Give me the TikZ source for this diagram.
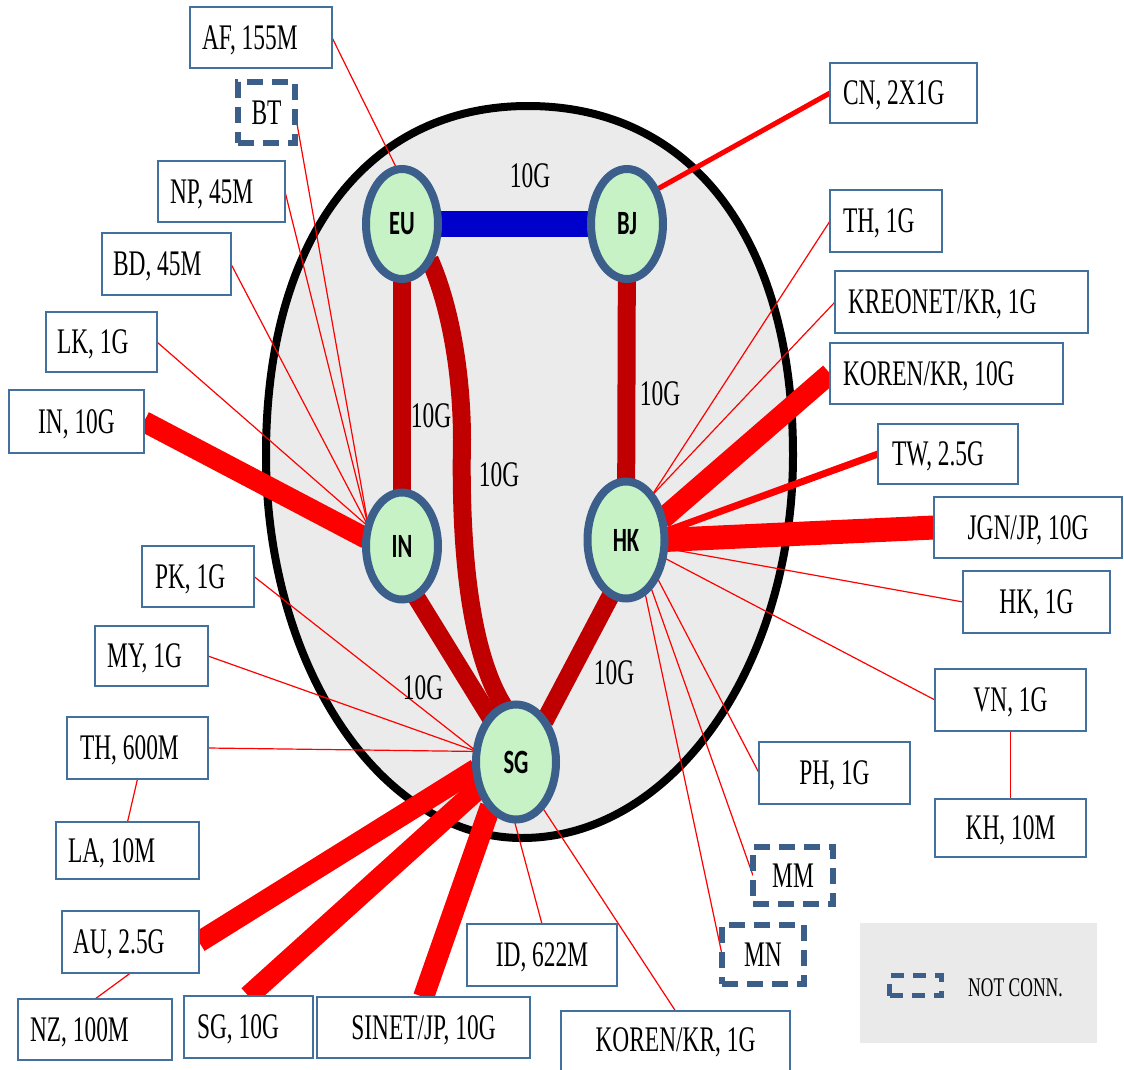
\documentclass[tikz,border=0pt]{standalone}
\usepackage{fontspec}
\setmainfont{Liberation Serif}[FakeStretch=0.65]
\newfontfamily\corefont{Carlito}[FakeStretch=0.66]
\usetikzlibrary{shapes.geometric}
\pgfdeclarelayer{egg}
\pgfdeclarelayer{wires}
\pgfsetlayers{egg,wires,main}
\definecolor{boxblue}{RGB}{65,113,156}
\definecolor{dashblue}{RGB}{60,95,138}
\definecolor{ringblue}{RGB}{59,94,139}
\definecolor{nodegreen}{RGB}{198,242,198}
\definecolor{trunkred}{RGB}{192,0,0}
\definecolor{linkred}{RGB}{255,0,0}
\definecolor{coreblue}{RGB}{0,0,204}
\definecolor{eggfill}{RGB}{235,235,235}
\definecolor{legendfill}{RGB}{234,234,234}
\frenchspacing
\tikzset{
 core/.style={ellipse, draw=ringblue, line width=8pt, fill=nodegreen, inner sep=0pt, outer sep=0pt, font=\corefont\bfseries\fontsize{34}{36}\selectfont},
 boxl/.style={draw=boxblue, line width=1.5pt, fill=white, inner ysep=0pt, text height=23.8pt, text depth=0pt, align=flush left, font=\frenchspacing\fontsize{36}{40}\selectfont, outer sep=0pt},
 boxc/.style={boxl, align=center, inner xsep=2pt},
 ncbox/.style={draw=dashblue, line width=6pt, dash pattern=on 16pt off 9pt, fill=white, inner sep=0pt, text height=23.8pt, text depth=0pt, font=\fontsize{36}{40}\selectfont, outer sep=0pt},
 link/.style={draw=linkred, line width=1.2pt},
 fat/.style={draw=linkred, line width=21pt},
 trunk/.style={draw=trunkred, line width=18pt},
 bw/.style={font=\fontsize{36}{40}\selectfont, inner sep=0pt, text height=23.8pt, text depth=0pt}
}
\begin{document}
\begin{tikzpicture}[x=1pt,y=-1pt]
\useasboundingbox (0,0) rectangle (1124,1070);

% core nodes
\node[core, minimum width=72pt, minimum height=110pt] (eu) at (402,224) {EU};
\node[core, minimum width=72pt, minimum height=110pt] (bj) at (627,224) {BJ};
\node[core, minimum width=72pt, minimum height=107pt] (in) at (402,546) {IN};
\node[core, minimum width=77pt, minimum height=117pt] (hk) at (626,540) {HK};
\node[core, minimum width=80pt, minimum height=115pt] (sg) at (516,762) {SG};

% trunk labels
\node[bw] (l1) at (530,176) {10G};
\node[bw] (l2) at (431,416) {10G};
\node[bw] (l3) at (499,475) {10G};
\node[bw] (l4) at (660,394) {10G};
\node[bw] (l5) at (423,688) {10G};
\node[bw] (l6) at (614,673) {10G};

% boxes
\node[boxl, minimum height=61pt, inner xsep=12pt, text width=118pt] (af) at (261,37.5) {AF, 155M};
\node[ncbox, minimum width=57pt, minimum height=61pt] (bt) at (266.5,112.5) {BT};
\node[boxl, minimum height=61pt, inner xsep=12pt, text width=103pt] (np) at (221.5,191.5) {NP, 45M};
\node[boxl, minimum height=62pt, inner xsep=11pt, text width=107pt] (bd) at (166.5,264) {BD, 45M};
\node[boxl, minimum height=60pt, inner xsep=11pt, text width=89pt] (lk) at (101.5,342) {LK, 1G};
\node[boxc, minimum width=135pt, minimum height=63pt] (inx) at (76.5,421.5) {IN, 10G};
\node[boxl, minimum height=61pt, inner xsep=13pt, text width=86pt] (pk) at (198,576.5) {PK, 1G};
\node[boxl, minimum height=60pt, inner xsep=12pt, text width=89pt] (my) at (151.5,656) {MY, 1G};
\node[boxl, minimum height=62pt, inner xsep=13pt, text width=115pt] (thb) at (137.5,748) {TH, 600M};
\node[boxl, minimum height=57pt, inner xsep=12pt, text width=119pt] (la) at (127.5,850.5) {LA, 10M};
\node[boxl, minimum height=62pt, inner xsep=11pt, text width=115pt] (au) at (130.5,942) {AU, 2.5G};
\node[boxl, minimum height=61pt, inner xsep=12pt, text width=130pt] (nz) at (95,1029.5) {NZ, 100M};
\node[boxl, minimum height=62pt, inner xsep=13pt, text width=103pt] (sgx) at (248.5,1027) {SG, 10G};
\node[boxc, minimum width=213pt, minimum height=61pt] (sinet) at (423.5,1027.5) {SINET/JP, 10G};
\node[boxc, minimum width=150pt, minimum height=62pt] (id) at (542,955) {ID, 622M};
\node[boxc, minimum width=229pt, minimum height=64pt, text depth=6pt] (korena) at (675.5,1043) {KOREN/KR, 1G};
\node[ncbox, minimum width=82pt, minimum height=59pt] (mn) at (763,954.5) {MN};
\node[ncbox, minimum width=80pt, minimum height=57pt] (mm) at (793,875.5) {MM};
\node[boxc, minimum width=151pt, minimum height=62pt] (ph) at (834.5,773) {PH, 1G};
\node[boxc, minimum width=151pt, minimum height=62pt] (vn) at (1010.5,700) {VN, 1G};
\node[boxc, minimum width=151pt, minimum height=58pt] (kh) at (1010.5,828) {KH, 10M};
\node[boxc, minimum width=147pt, minimum height=62pt] (hkx) at (1036.5,602) {HK, 1G};
\node[boxc, minimum width=188pt, minimum height=61pt] (jgn) at (1028,527.5) {JGN/JP, 10G};
\node[boxl, minimum height=60pt, inner xsep=14pt, text width=112pt] (tw) at (948,454) {TW, 2.5G};
\node[boxl, minimum height=61pt, inner xsep=13pt, text width=207pt] (korenb) at (946.5,373.5) {KOREN/KR, 10G};
\node[boxl, minimum height=62pt, inner xsep=13pt, text width=227pt] (kreonet) at (961.5,302) {KREONET/KR, 1G};
\node[boxl, minimum height=62pt, inner xsep=13pt, text width=86pt] (tha) at (886,221) {TH, 1G};
\node[boxl, minimum height=60pt, inner xsep=13pt, text width=121pt] (cn) at (903.5,93) {CN, 2X1G};

% legend
\node[fill=legendfill, minimum width=237pt, minimum height=120pt, inner sep=0pt] (legend) at (978.5,983) {};
\node[draw=dashblue, line width=5pt, dash pattern=on 13pt off 9pt, minimum width=52pt, minimum height=20pt, inner sep=0pt] (icon) at (915.5,985.5) {};
\node[anchor=west, font=\fontsize{27}{30}\selectfont, inner sep=0pt, text height=17.9pt, text depth=0pt] (nclabel) at (968,988) {NOT CONN.};

\begin{pgfonlayer}{egg}
\draw[line width=8pt, fill=eggfill] (266,455) .. controls (266,239) and (366,106) .. (528,106)
  .. controls (692,106) and (793,239) .. (793,455)
  .. controls (793,667) and (672,838) .. (522,838)
  .. controls (381,838) and (266,667) .. (266,455) -- cycle;
\end{pgfonlayer}

\begin{pgfonlayer}{wires}
\draw[draw=coreblue, line width=26pt] (eu) -- (bj);
\draw[trunk] (eu) -- (in);
\draw[trunk] (bj) -- (hk);
\draw[trunk] (in.-75) -- (sg.120);
\draw[trunk] (hk.-105) -- (sg.55);
\draw[trunk] (eu.-52) .. controls (452,310) and (462,380) .. (462,440) .. controls (460,540) and (468,650) .. (sg.102);

\draw[link] (af.east) -- (eu.95);
\draw[draw=linkred, line width=5pt] (cn.west) -- (bj.50);
\draw[link] (bt.east) -- (in.150);
\draw[link] (np.east) -- (in.150);
\draw[link] (bd.east) -- (in.150);
\draw[link] (lk.east) -- (in.150);
\draw[fat] (inx.east) -- (in.168);
\draw[link] (pk.east) -- (sg.165);
\draw[link] (my.east) -- (sg.165);
\draw[link] (thb.east) -- (sg.165);
\draw[fat] (au.east) -- (sg.190);
\draw[fat] (sgx.north) -- (sg.215);
\draw[fat] (sinet.north) -- (sg.240);
\draw[link] (id.north) -- (sg.268);
\draw[link] (korena.north) -- (sg.300);
\draw[link] (thb.south) -- (la.north);
\draw[link] (au.south) -- (nz.north);
\draw[link] (vn.south) -- (kh.north);
\draw[link] (tha.west) -- (hk.60);
\draw[link] (kreonet.west) -- (hk.60);
\draw[fat] (korenb.west) -- (hk.30);
\draw[draw=linkred, line width=7pt] (tw.west) -- (hk.12);
\draw[fat, line width=24pt] (jgn.west) -- (hk.0);
\draw[link] (hkx.west) -- (hk.-12);
\draw[link] (vn.west) -- (hk.-25);
\draw[link] (ph.west) -- (hk.-50);
\draw[link] (mm.west) -- (hk.-62);
\draw[link] (mn.west) -- (hk.-70);
\end{pgfonlayer}
\end{tikzpicture}
\end{document}
